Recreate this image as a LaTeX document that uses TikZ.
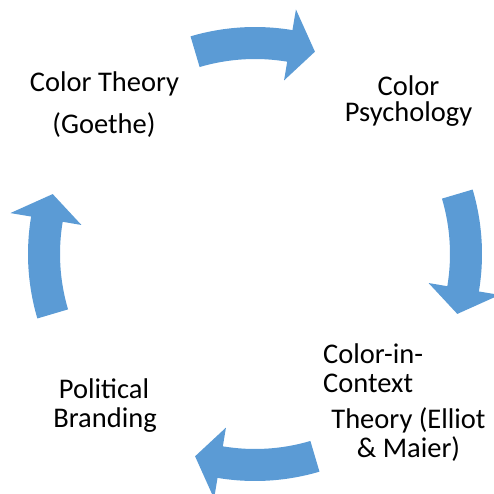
\documentclass[tikz,border=0pt]{standalone}
\usepackage{fontspec}
\setmainfont{Carlito}
\definecolor{arrowblue}{HTML}{5B9BD5}
\begin{document}
\begin{tikzpicture}[x=1pt,y=1pt,
  lbl/.style={inner sep=0pt, font=\fontsize{28.5}{30}\selectfont, text=black},
  cyclearrow/.style={fill=arrowblue, draw=none}]
\useasboundingbox (0,0) rectangle (494,493);
\begin{scope}[shift={(255,239)}]
\foreach \c in {90,0,-90,-180} {
  \fill[cyclearrow] ({\c+16.5}:227) arc[start angle={\c+16.5}, end angle={\c-9.5}, radius=227]
    -- ({\c-9.5}:248) -- ({\c-16.5}:211) -- ({\c-9.5}:176) -- ({\c-9.5}:195)
    arc[start angle={\c-9.5}, end angle={\c+16.5}, radius=195] -- cycle;
}
\end{scope}
\node[lbl, anchor=base] (ct1) at (104.5,401) {Color Theory};
\node[lbl, anchor=base] (ct2) at (104,359) {(Goethe)};
\node[lbl, anchor=base] (cp1) at (408.5,397.5) {Color};
\node[lbl, anchor=base] (cp2) at (408.5,371) {Psychology};
\node[lbl, anchor=base west] (cc1) at (323,130) {Color-in-};
\node[lbl, anchor=base west] (cc2) at (323,101) {Context};
\node[lbl, anchor=base] (cc3) at (408.5,65) {Theory (Elliot};
\node[lbl, anchor=base] (cc4) at (408.5,36) {\& Maier)};
\node[lbl, anchor=base] (pb1) at (104,95) {Political};
\node[lbl, anchor=base] (pb2) at (105,66) {Branding};
\end{tikzpicture}
\end{document}
